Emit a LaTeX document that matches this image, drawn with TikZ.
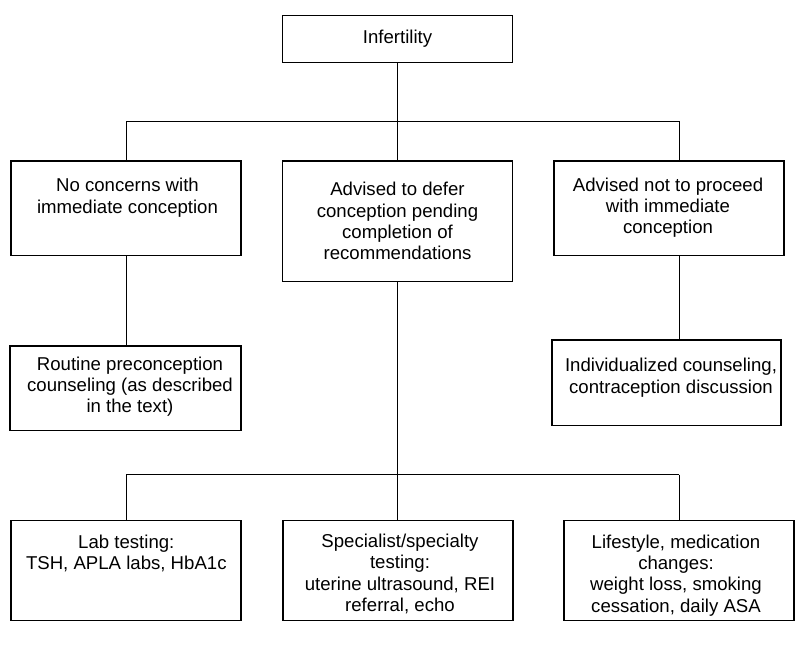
\documentclass[tikz,border=0pt]{standalone}
\usepackage{fontspec}
\setmainfont{Liberation Sans}
\newcommand{\tb}[1]{\parbox[t]{250pt}{\centering #1}}
\begin{document}
\begin{tikzpicture}[x=1pt,y=-1pt,
  box/.style={draw=black, line width=1.5pt, inner sep=0pt, fill=white},
  txt/.style={inner sep=0pt, anchor=base},
  conn/.style={draw=black, line width=0.9pt},
  font=\fontsize{18.6}{21.3}\selectfont]
\useasboundingbox[fill=white] (0,0) rectangle (800,648);

% boxes
\node[box, minimum width=230pt, minimum height=47pt] (inf) at (397.5,39) {Infertility};

\node[box, minimum width=230pt, minimum height=94.5pt] (l2l) at (126,208.25) {};
\node[box, minimum width=230pt, minimum height=120.7pt] (l2m) at (397.5,221.35) {};
\node[box, minimum width=230pt, minimum height=94.7pt] (l2r) at (669,208.35) {};

\node[box, minimum width=231pt, minimum height=84.3pt] (l3l) at (125.5,388.15) {};
\node[box, minimum width=229pt, minimum height=85.3pt] (l3r) at (666.5,382.65) {};

\node[box, minimum width=230pt, minimum height=100pt] (l4l) at (126,570.7) {};
\node[box, minimum width=230pt, minimum height=100pt] (l4m) at (398,570.7) {};
\node[box, minimum width=230pt, minimum height=100pt] (l4r) at (679,570.7) {};

% texts
\node[txt] (t2l) at (127.5,191.7) {\tb{No concerns with\\immediate conception}};
\node[txt] (t2m) at (397.5,195.7) {\tb{Advised to defer\\conception pending\\completion of\\recommendations}};
\node[txt] (t2r) at (668,191) {\tb{Advised not to proceed\\with immediate\\conception}};

\node[txt] (t3l) at (130,370) {\tb{Routine preconception\\counseling (as described\\in the text)}};
\node[txt] (t3r) at (671,371.7) {\tb{Individualized counseling,\\contraception discussion}};

\node[txt] (t4l) at (126.3,548.3) {\tb{Lab testing:\\TSH, APLA labs, HbA1c}};
\node[txt] (t4m) at (400,547.5) {\tb{Specialist/specialty\\testing:\\uterine ultrasound, REI\\referral, echo}};
\node[txt] (t4r) at (676,548.3) {\tb{Lifestyle, medication\\changes:\\weight loss, smoking\\cessation, daily ASA}};

% connector junctions
\coordinate (h1l) at (126,121);
\coordinate (h1m) at (397.5,121);
\coordinate (h1r) at (679,121);
\coordinate (h2l) at (126,474.5);
\coordinate (h2m) at (397.5,474.5);
\coordinate (h2r) at (679,474.5);

% connectors
\draw[conn] (inf.south) -- (h1m);
\draw[conn] (h1l) -- (h1r);
\draw[conn] (h1l) -- (l2l.north);
\draw[conn] (h1m) -- (l2m.north);
\draw[conn] (h1r) -- (h1r |- l2r.north);

\draw[conn] (l2l.south) -- (l2l.south |- l3l.north);
\draw[conn] (h1r |- l2r.south) -- (h1r |- l3r.north);

\draw[conn] (l2m.south) -- (h2m);
\draw[conn] (h2l) -- (h2r);
\draw[conn] (h2l) -- (l4l.north);
\draw[conn] (h2m) -- (h2m |- l4m.north);
\draw[conn] (h2r) -- (l4r.north);
\end{tikzpicture}
\end{document}
